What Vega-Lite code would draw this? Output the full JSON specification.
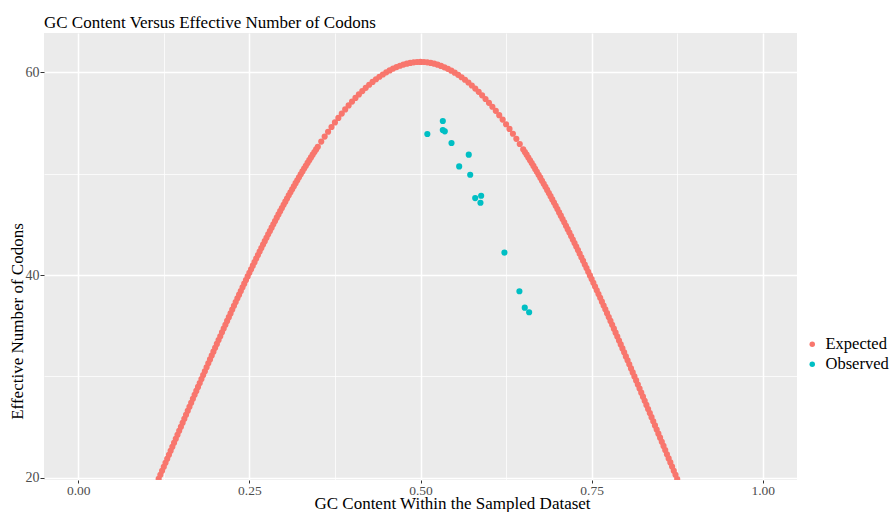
{
  "$schema": "https://vega.github.io/schema/vega-lite/v6.json",
  "width": 753,
  "height": 447,
  "autosize": {"type": "none"},
  "padding": {"left": 44, "top": 33, "right": 93, "bottom": 32},
  "background": "white",
  "config": {
    "view": {"stroke": null, "fill": "#EBEBEB"},
    "font": "Liberation Serif"
  },
  "title": {
    "text": "GC Content Versus Effective Number of Codons",
    "anchor": "start",
    "frame": "group",
    "fontSize": 17,
    "fontWeight": "normal",
    "color": "black",
    "baseline": "alphabetic",
    "offset": 6,
    "dy": 18
  },
  "data": {
    "values": [
      {"gc":0.1175,"enc":19.91,"series":"Expected"},{"gc":0.12,"enc":20.31,"series":"Expected"},{"gc":0.1225,"enc":20.70,"series":"Expected"},{"gc":0.125,"enc":21.10,"series":"Expected"},{"gc":0.1275,"enc":21.49,"series":"Expected"},{"gc":0.13,"enc":21.89,"series":"Expected"},{"gc":0.1325,"enc":22.28,"series":"Expected"},{"gc":0.135,"enc":22.68,"series":"Expected"},{"gc":0.1375,"enc":23.07,"series":"Expected"},{"gc":0.14,"enc":23.47,"series":"Expected"},{"gc":0.1425,"enc":23.86,"series":"Expected"},{"gc":0.145,"enc":24.26,"series":"Expected"},{"gc":0.1475,"enc":24.65,"series":"Expected"},{"gc":0.15,"enc":25.05,"series":"Expected"},{"gc":0.1525,"enc":25.44,"series":"Expected"},{"gc":0.155,"enc":25.83,"series":"Expected"},{"gc":0.1575,"enc":26.23,"series":"Expected"},{"gc":0.16,"enc":26.62,"series":"Expected"},{"gc":0.1625,"enc":27.01,"series":"Expected"},{"gc":0.165,"enc":27.41,"series":"Expected"},{"gc":0.1675,"enc":27.80,"series":"Expected"},{"gc":0.17,"enc":28.19,"series":"Expected"},{"gc":0.1725,"enc":28.58,"series":"Expected"},{"gc":0.175,"enc":28.97,"series":"Expected"},{"gc":0.1775,"enc":29.36,"series":"Expected"},{"gc":0.18,"enc":29.75,"series":"Expected"},{"gc":0.1825,"enc":30.14,"series":"Expected"},{"gc":0.185,"enc":30.52,"series":"Expected"},{"gc":0.1875,"enc":30.91,"series":"Expected"},{"gc":0.19,"enc":31.30,"series":"Expected"},{"gc":0.1925,"enc":31.68,"series":"Expected"},{"gc":0.195,"enc":32.06,"series":"Expected"},{"gc":0.1975,"enc":32.45,"series":"Expected"},{"gc":0.2,"enc":32.83,"series":"Expected"},{"gc":0.2025,"enc":33.21,"series":"Expected"},{"gc":0.205,"enc":33.59,"series":"Expected"},{"gc":0.2075,"enc":33.97,"series":"Expected"},{"gc":0.21,"enc":34.35,"series":"Expected"},{"gc":0.2125,"enc":34.73,"series":"Expected"},{"gc":0.215,"enc":35.10,"series":"Expected"},{"gc":0.2175,"enc":35.48,"series":"Expected"},{"gc":0.22,"enc":35.85,"series":"Expected"},{"gc":0.2225,"enc":36.22,"series":"Expected"},{"gc":0.225,"enc":36.59,"series":"Expected"},{"gc":0.2275,"enc":36.96,"series":"Expected"},{"gc":0.23,"enc":37.33,"series":"Expected"},{"gc":0.2325,"enc":37.70,"series":"Expected"},{"gc":0.235,"enc":38.06,"series":"Expected"},{"gc":0.2375,"enc":38.42,"series":"Expected"},{"gc":0.24,"enc":38.79,"series":"Expected"},{"gc":0.2425,"enc":39.15,"series":"Expected"},{"gc":0.245,"enc":39.51,"series":"Expected"},{"gc":0.2475,"enc":39.86,"series":"Expected"},{"gc":0.25,"enc":40.22,"series":"Expected"},{"gc":0.2525,"enc":40.57,"series":"Expected"},{"gc":0.255,"enc":40.92,"series":"Expected"},{"gc":0.2575,"enc":41.27,"series":"Expected"},{"gc":0.26,"enc":41.62,"series":"Expected"},{"gc":0.2625,"enc":41.97,"series":"Expected"},{"gc":0.265,"enc":42.31,"series":"Expected"},{"gc":0.2675,"enc":42.66,"series":"Expected"},{"gc":0.27,"enc":43.00,"series":"Expected"},{"gc":0.2725,"enc":43.34,"series":"Expected"},{"gc":0.275,"enc":43.67,"series":"Expected"},{"gc":0.2775,"enc":44.01,"series":"Expected"},{"gc":0.28,"enc":44.34,"series":"Expected"},{"gc":0.2825,"enc":44.67,"series":"Expected"},{"gc":0.285,"enc":45.00,"series":"Expected"},{"gc":0.2875,"enc":45.32,"series":"Expected"},{"gc":0.29,"enc":45.65,"series":"Expected"},{"gc":0.2925,"enc":45.97,"series":"Expected"},{"gc":0.295,"enc":46.29,"series":"Expected"},{"gc":0.2975,"enc":46.60,"series":"Expected"},{"gc":0.3,"enc":46.92,"series":"Expected"},{"gc":0.3025,"enc":47.23,"series":"Expected"},{"gc":0.305,"enc":47.54,"series":"Expected"},{"gc":0.3075,"enc":47.85,"series":"Expected"},{"gc":0.31,"enc":48.15,"series":"Expected"},{"gc":0.3125,"enc":48.45,"series":"Expected"},{"gc":0.315,"enc":48.75,"series":"Expected"},{"gc":0.3175,"enc":49.05,"series":"Expected"},{"gc":0.32,"enc":49.34,"series":"Expected"},{"gc":0.3225,"enc":49.63,"series":"Expected"},{"gc":0.325,"enc":49.92,"series":"Expected"},{"gc":0.3275,"enc":50.21,"series":"Expected"},{"gc":0.33,"enc":50.49,"series":"Expected"},{"gc":0.3325,"enc":50.77,"series":"Expected"},{"gc":0.335,"enc":51.05,"series":"Expected"},{"gc":0.3375,"enc":51.32,"series":"Expected"},{"gc":0.34,"enc":51.59,"series":"Expected"},{"gc":0.3425,"enc":51.86,"series":"Expected"},{"gc":0.345,"enc":52.12,"series":"Expected"},{"gc":0.3475,"enc":52.38,"series":"Expected"},{"gc":0.35,"enc":52.64,"series":"Expected"},{"gc":0.355,"enc":53.15,"series":"Expected"},{"gc":0.36,"enc":53.64,"series":"Expected"},{"gc":0.365,"enc":54.12,"series":"Expected"},{"gc":0.37,"enc":54.59,"series":"Expected"},{"gc":0.375,"enc":55.04,"series":"Expected"},{"gc":0.38,"enc":55.48,"series":"Expected"},{"gc":0.385,"enc":55.91,"series":"Expected"},{"gc":0.39,"enc":56.32,"series":"Expected"},{"gc":0.395,"enc":56.71,"series":"Expected"},{"gc":0.4,"enc":57.09,"series":"Expected"},{"gc":0.405,"enc":57.45,"series":"Expected"},{"gc":0.41,"enc":57.80,"series":"Expected"},{"gc":0.415,"enc":58.13,"series":"Expected"},{"gc":0.42,"enc":58.45,"series":"Expected"},{"gc":0.425,"enc":58.75,"series":"Expected"},{"gc":0.43,"enc":59.03,"series":"Expected"},{"gc":0.435,"enc":59.29,"series":"Expected"},{"gc":0.44,"enc":59.54,"series":"Expected"},{"gc":0.445,"enc":59.76,"series":"Expected"},{"gc":0.45,"enc":59.97,"series":"Expected"},{"gc":0.455,"enc":60.16,"series":"Expected"},{"gc":0.46,"enc":60.34,"series":"Expected"},{"gc":0.465,"enc":60.49,"series":"Expected"},{"gc":0.47,"enc":60.62,"series":"Expected"},{"gc":0.475,"enc":60.74,"series":"Expected"},{"gc":0.48,"enc":60.83,"series":"Expected"},{"gc":0.485,"enc":60.90,"series":"Expected"},{"gc":0.49,"enc":60.96,"series":"Expected"},{"gc":0.495,"enc":60.99,"series":"Expected"},{"gc":0.5,"enc":61.00,"series":"Expected"},
      {"gc":0.505,"enc":60.99,"series":"Expected"},{"gc":0.51,"enc":60.96,"series":"Expected"},{"gc":0.515,"enc":60.90,"series":"Expected"},{"gc":0.52,"enc":60.83,"series":"Expected"},{"gc":0.525,"enc":60.73,"series":"Expected"},{"gc":0.53,"enc":60.61,"series":"Expected"},{"gc":0.535,"enc":60.47,"series":"Expected"},{"gc":0.54,"enc":60.32,"series":"Expected"},{"gc":0.545,"enc":60.14,"series":"Expected"},{"gc":0.55,"enc":59.94,"series":"Expected"},{"gc":0.555,"enc":59.73,"series":"Expected"},{"gc":0.56,"enc":59.49,"series":"Expected"},{"gc":0.565,"enc":59.24,"series":"Expected"},{"gc":0.57,"enc":58.97,"series":"Expected"},{"gc":0.575,"enc":58.68,"series":"Expected"},{"gc":0.58,"enc":58.37,"series":"Expected"},{"gc":0.585,"enc":58.05,"series":"Expected"},{"gc":0.59,"enc":57.71,"series":"Expected"},{"gc":0.595,"enc":57.35,"series":"Expected"},{"gc":0.6,"enc":56.97,"series":"Expected"},{"gc":0.605,"enc":56.58,"series":"Expected"},{"gc":0.61,"enc":56.18,"series":"Expected"},{"gc":0.615,"enc":55.75,"series":"Expected"},{"gc":0.62,"enc":55.32,"series":"Expected"},{"gc":0.625,"enc":54.86,"series":"Expected"},{"gc":0.63,"enc":54.40,"series":"Expected"},{"gc":0.635,"enc":53.92,"series":"Expected"},{"gc":0.64,"enc":53.42,"series":"Expected"},{"gc":0.645,"enc":52.91,"series":"Expected"},{"gc":0.65,"enc":52.39,"series":"Expected"},{"gc":0.6525,"enc":52.12,"series":"Expected"},{"gc":0.655,"enc":51.86,"series":"Expected"},{"gc":0.6575,"enc":51.58,"series":"Expected"},{"gc":0.66,"enc":51.31,"series":"Expected"},{"gc":0.6625,"enc":51.03,"series":"Expected"},{"gc":0.665,"enc":50.75,"series":"Expected"},{"gc":0.6675,"enc":50.46,"series":"Expected"},{"gc":0.67,"enc":50.17,"series":"Expected"},{"gc":0.6725,"enc":49.88,"series":"Expected"},{"gc":0.675,"enc":49.59,"series":"Expected"},{"gc":0.6775,"enc":49.29,"series":"Expected"},{"gc":0.68,"enc":48.99,"series":"Expected"},{"gc":0.6825,"enc":48.69,"series":"Expected"},{"gc":0.685,"enc":48.39,"series":"Expected"},{"gc":0.6875,"enc":48.08,"series":"Expected"},{"gc":0.69,"enc":47.77,"series":"Expected"},{"gc":0.6925,"enc":47.45,"series":"Expected"},{"gc":0.695,"enc":47.14,"series":"Expected"},{"gc":0.6975,"enc":46.82,"series":"Expected"},{"gc":0.7,"enc":46.50,"series":"Expected"},{"gc":0.7025,"enc":46.17,"series":"Expected"},{"gc":0.705,"enc":45.85,"series":"Expected"},{"gc":0.7075,"enc":45.52,"series":"Expected"},{"gc":0.71,"enc":45.19,"series":"Expected"},{"gc":0.7125,"enc":44.85,"series":"Expected"},{"gc":0.715,"enc":44.52,"series":"Expected"},{"gc":0.7175,"enc":44.18,"series":"Expected"},{"gc":0.72,"enc":43.84,"series":"Expected"},{"gc":0.7225,"enc":43.50,"series":"Expected"},{"gc":0.725,"enc":43.15,"series":"Expected"},{"gc":0.7275,"enc":42.81,"series":"Expected"},{"gc":0.73,"enc":42.46,"series":"Expected"},{"gc":0.7325,"enc":42.11,"series":"Expected"},{"gc":0.735,"enc":41.75,"series":"Expected"},{"gc":0.7375,"enc":41.40,"series":"Expected"},{"gc":0.74,"enc":41.04,"series":"Expected"},{"gc":0.7425,"enc":40.68,"series":"Expected"},{"gc":0.745,"enc":40.32,"series":"Expected"},{"gc":0.7475,"enc":39.96,"series":"Expected"},{"gc":0.75,"enc":39.60,"series":"Expected"},{"gc":0.7525,"enc":39.23,"series":"Expected"},{"gc":0.755,"enc":38.86,"series":"Expected"},{"gc":0.7575,"enc":38.49,"series":"Expected"},{"gc":0.76,"enc":38.12,"series":"Expected"},{"gc":0.7625,"enc":37.75,"series":"Expected"},{"gc":0.765,"enc":37.37,"series":"Expected"},{"gc":0.7675,"enc":37.00,"series":"Expected"},{"gc":0.77,"enc":36.62,"series":"Expected"},{"gc":0.7725,"enc":36.24,"series":"Expected"},{"gc":0.775,"enc":35.86,"series":"Expected"},{"gc":0.7775,"enc":35.48,"series":"Expected"},{"gc":0.78,"enc":35.09,"series":"Expected"},{"gc":0.7825,"enc":34.71,"series":"Expected"},{"gc":0.785,"enc":34.32,"series":"Expected"},{"gc":0.7875,"enc":33.94,"series":"Expected"},{"gc":0.79,"enc":33.55,"series":"Expected"},{"gc":0.7925,"enc":33.16,"series":"Expected"},{"gc":0.795,"enc":32.77,"series":"Expected"},{"gc":0.7975,"enc":32.38,"series":"Expected"},{"gc":0.8,"enc":31.98,"series":"Expected"},{"gc":0.8025,"enc":31.59,"series":"Expected"},{"gc":0.805,"enc":31.20,"series":"Expected"},{"gc":0.8075,"enc":30.80,"series":"Expected"},{"gc":0.81,"enc":30.40,"series":"Expected"},{"gc":0.8125,"enc":30.01,"series":"Expected"},{"gc":0.815,"enc":29.61,"series":"Expected"},{"gc":0.8175,"enc":29.21,"series":"Expected"},{"gc":0.82,"enc":28.81,"series":"Expected"},{"gc":0.8225,"enc":28.41,"series":"Expected"},{"gc":0.825,"enc":28.01,"series":"Expected"},{"gc":0.8275,"enc":27.61,"series":"Expected"},{"gc":0.83,"enc":27.20,"series":"Expected"},{"gc":0.8325,"enc":26.80,"series":"Expected"},{"gc":0.835,"enc":26.40,"series":"Expected"},{"gc":0.8375,"enc":25.99,"series":"Expected"},{"gc":0.84,"enc":25.59,"series":"Expected"},{"gc":0.8425,"enc":25.18,"series":"Expected"},{"gc":0.845,"enc":24.78,"series":"Expected"},{"gc":0.8475,"enc":24.37,"series":"Expected"},{"gc":0.85,"enc":23.97,"series":"Expected"},{"gc":0.8525,"enc":23.56,"series":"Expected"},{"gc":0.855,"enc":23.16,"series":"Expected"},{"gc":0.8575,"enc":22.75,"series":"Expected"},{"gc":0.86,"enc":22.34,"series":"Expected"},{"gc":0.8625,"enc":21.93,"series":"Expected"},{"gc":0.865,"enc":21.53,"series":"Expected"},{"gc":0.8675,"enc":21.12,"series":"Expected"},{"gc":0.87,"enc":20.71,"series":"Expected"},{"gc":0.8725,"enc":20.31,"series":"Expected"},{"gc":0.875,"enc":19.90,"series":"Expected"},
      {"gc":0.510,"enc":53.90,"series":"Observed"},{"gc":0.5326,"enc":55.18,"series":"Observed"},{"gc":0.5326,"enc":54.29,"series":"Observed"},{"gc":0.5355,"enc":54.16,"series":"Observed"},{"gc":0.5453,"enc":53.01,"series":"Observed"},{"gc":0.5705,"enc":51.86,"series":"Observed"},{"gc":0.5565,"enc":50.70,"series":"Observed"},{"gc":0.5726,"enc":49.88,"series":"Observed"},{"gc":0.5799,"enc":47.58,"series":"Observed"},{"gc":0.5886,"enc":47.81,"series":"Observed"},{"gc":0.5876,"enc":47.12,"series":"Observed"},{"gc":0.6226,"enc":42.21,"series":"Observed"},{"gc":0.6445,"enc":38.40,"series":"Observed"},{"gc":0.6523,"enc":36.78,"series":"Observed"},{"gc":0.6587,"enc":36.33,"series":"Observed"}
    ]
  },
  "mark": {"type": "circle", "size": 38, "opacity": 1, "clip": true},
  "encoding": {
    "x": {
      "field": "gc", "type": "quantitative",
      "scale": {"domain": [-0.05, 1.05], "nice": false, "zero": false},
      "axis": {
        "values": [0, 0.125, 0.25, 0.375, 0.5, 0.625, 0.75, 0.875, 1],
        "labelExpr": "(datum.value * 4) % 1 === 0 ? format(datum.value, '.2f') : ''",
        "labelFlush": false,
        "labelOverlap": false,
        "domain": false,
        "gridColor": "white",
        "gridWidth": {"condition": {"test": "(datum.value * 4) % 1 === 0", "value": 1.5}, "value": 0.75},
        "tickOpacity": {"condition": {"test": "(datum.value * 4) % 1 === 0", "value": 1}, "value": 0},
        "tickColor": "#333333",
        "tickSize": 3,
        "tickWidth": 1,
        "labelColor": "#4D4D4D",
        "labelFontSize": 13.5,
        "labelPadding": 0,
        "title": "GC Content Within the Sampled Dataset",
        "titleFontSize": 17,
        "titleFontWeight": "normal",
        "titleColor": "black",
        "titleX": 408,
        "titleY": 28,
        "titleBaseline": "alphabetic"
      }
    },
    "y": {
      "field": "enc", "type": "quantitative",
      "scale": {"domain": [19.8, 63.85], "nice": false, "zero": false},
      "axis": {
        "values": [20, 30, 40, 50, 60],
        "labelExpr": "datum.value % 20 === 0 ? format(datum.value, 'd') : ''",
        "labelOverlap": false,
        "labelFlush": false,
        "domain": false,
        "gridColor": "white",
        "gridWidth": {"condition": {"test": "datum.value % 20 === 0", "value": 1.5}, "value": 0.75},
        "tickOpacity": {"condition": {"test": "datum.value % 20 === 0", "value": 1}, "value": 0},
        "tickColor": "#333333",
        "tickSize": 4,
        "tickWidth": 1,
        "labelColor": "#4D4D4D",
        "labelFontSize": 14,
        "labelPadding": 1,
        "title": "Effective Number of Codons",
        "titleFontSize": 17,
        "titleFontWeight": "normal",
        "titleColor": "black",
        "titleAngle": 270,
        "titleX": -27,
        "titleY": 288,
        "titleAlign": "center",
        "titleBaseline": "middle"
      }
    },
    "color": {
      "field": "series", "type": "nominal",
      "scale": {"domain": ["Expected", "Observed"], "range": ["#F8766D", "#00BFC4"]},
      "legend": {
        "title": null,
        "orient": "none",
        "legendX": 760,
        "legendY": 303,
        "padding": 0,
        "symbolType": "circle",
        "symbolSize": 30,
        "symbolStrokeWidth": 0,
        "labelFontSize": 16.5,
        "labelColor": "black",
        "labelOffset": 5,
        "rowPadding": 3
      }
    }
  }
}
